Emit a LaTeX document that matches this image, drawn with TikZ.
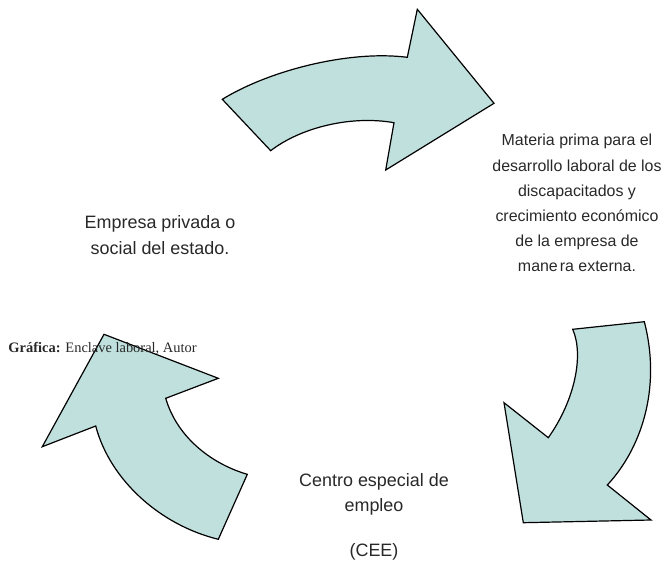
\documentclass[tikz,border=0pt]{standalone}
\usepackage{fontspec}
\setmainfont{Liberation Sans}
\newfontfamily\serifgraf{Liberation Serif}
\definecolor{arrowfill}{RGB}{192,224,222}
\definecolor{txtcol}{RGB}{40,40,40}
\begin{document}
\begin{tikzpicture}[x=1bp,y=-1bp,
  bigarrow/.style={fill=arrowfill, draw=black, line width=1.2bp, line join=miter},
  lbl/.style={text=txtcol, align=center, inner sep=0pt}]
\useasboundingbox (0,0) rectangle (665,563);
% top arrow
\path[bigarrow] (222.3,99.3) .. controls (270,70) and (350,50) .. (407.3,57.3)
  -- (417.3,9.3) -- (494,103.3) -- (385.7,170) -- (394,122.7)
  .. controls (350,115) and (300,128) .. (270.7,150.7) -- cycle;
% right arrow
\path[bigarrow] (644.3,321.7) -- (572.7,329.3)
  .. controls (584,355) and (575,400) .. (548.3,437.7)
  -- (504,402.7) -- (523.3,522.7) -- (651,520) -- (607.3,485)
  .. controls (640,450) and (662,390) .. (644.3,321.7) -- cycle;
% left arrow
\path[bigarrow] (218.3,539.3) -- (247.3,474.3)
  .. controls (215,465) and (178,440) .. (165.7,398.3)
  -- (218.3,378.3) -- (104,334.3) -- (42.3,446.7) -- (95.7,426)
  .. controls (110,480) and (160,525) .. (218.3,539.3) -- cycle;
% texts
\node[lbl, font=\fontsize{18}{26}\selectfont] (empresa) at (160,235)
  {Empresa privada o\\social del estado.};
\node[lbl, font=\fontsize{16}{25.2}\selectfont] (materia) at (577,203)
  {Materia prima para el\\desarrollo laboral de los\\discapacitados y\\crecimiento económico\\de la empresa de\\mane\kern2pt ra externa.};
\node[lbl, font=\fontsize{18}{25}\selectfont] (centro) at (374,517)
  {Centro especial de\\empleo\\[20pt](CEE)};
\node[anchor=west, inner sep=0pt, text=txtcol, font=\serifgraf\fontsize{14.5}{16}\selectfont] (grafica) at (8.3,349)
  {\textbf{Gráfica:} Enclave laboral, Autor};
\end{tikzpicture}
\end{document}
